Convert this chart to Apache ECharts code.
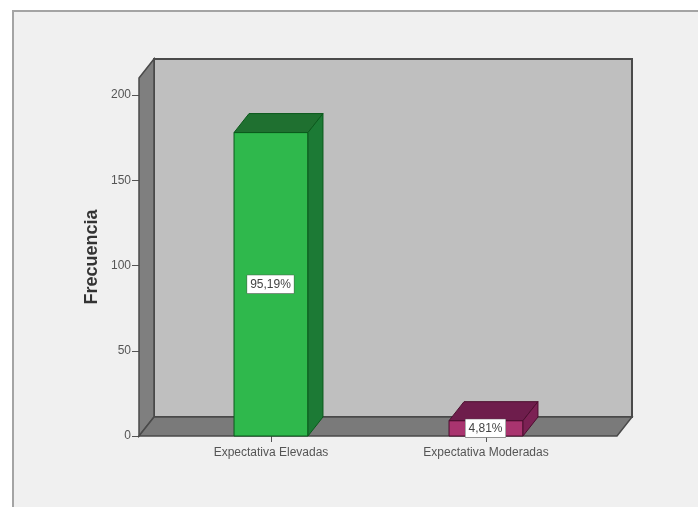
<!DOCTYPE html>
<html>
<head>
<meta charset="utf-8">
<style>html,body{margin:0;padding:0;background:#fff}#chart{width:698px;height:507px}</style>
<script src="https://cdn.jsdelivr.net/npm/echarts@6/dist/echarts.min.js"></script>
</head>
<body>
<div id="chart"></div>
<script>
// Frequency of each expectation level
const categories = ['Expectativa Elevadas', 'Expectativa Moderadas'];
const frecuencias = [178, 9];
const porcentajes = ['95,19%', '4,81%'];
const yTicks = [0, 50, 100, 150, 200];
const yMax = 210;

// Oblique projection used for the box depth, in pixels
const DEPTH_X = 15;
const DEPTH_Y = 19;
// The floor and walls reach past the outer category bands
const WALL_LEFT = 24.5;
const WALL_RIGHT = 23.5;

const barStyles = [
  { front: '#2fb84c', top: '#1f7030', side: '#1c7a35', edge: '#0b5a1c' },
  { front: '#a9346f', top: '#6e1d4c', side: '#7c2154', edge: '#4d0f30' }
];

function poly(points, fill, stroke, lineWidth) {
  return { type: 'polygon', shape: { points }, style: { fill, stroke, lineWidth: lineWidth || 1 } };
}

// Back wall, side wall and floor of the 3D frame
function renderFrame(params, api) {
  const cs = params.coordSys;
  const x0 = cs.x - WALL_LEFT;
  const x1 = cs.x + cs.width + WALL_RIGHT;
  const yTop = api.coord([0, yMax])[1];
  const yBase = api.coord([0, 0])[1];
  const edge = '#4a4a4a';
  return {
    type: 'group',
    children: [
      poly([[x0 + DEPTH_X, yTop - DEPTH_Y], [x1 + DEPTH_X, yTop - DEPTH_Y], [x1 + DEPTH_X, yBase - DEPTH_Y], [x0 + DEPTH_X, yBase - DEPTH_Y]], '#bfbfbf', edge, 2),
      poly([[x0, yTop], [x0 + DEPTH_X, yTop - DEPTH_Y], [x0 + DEPTH_X, yBase - DEPTH_Y], [x0, yBase]], '#7f7f7f', edge, 1.5),
      poly([[x0, yBase], [x0 + DEPTH_X, yBase - DEPTH_Y], [x1 + DEPTH_X, yBase - DEPTH_Y], [x1, yBase]], '#7a7a7a', edge, 1.5)
    ]
  };
}

// One 3D bar: front face, top face, right face and its percentage box
function renderBar(params, api) {
  const i = params.dataIndex;
  const s = barStyles[i];
  const base = api.coord([api.value(0), 0]);
  const head = api.coord([api.value(0), api.value(1)]);
  const half = api.size([1, 0])[0] * 0.172;
  const l = base[0] - half, r = base[0] + half, b = base[1], t = head[1];
  return {
    type: 'group',
    children: [
      poly([[l, t], [r, t], [r, b], [l, b]], s.front, s.edge),
      poly([[l, t], [l + DEPTH_X, t - DEPTH_Y], [r + DEPTH_X, t - DEPTH_Y], [r, t]], s.top, s.edge),
      poly([[r, t], [r + DEPTH_X, t - DEPTH_Y], [r + DEPTH_X, b - DEPTH_Y], [r, b]], s.side, s.edge),
      {
        type: 'text',
        style: {
          x: base[0] - 0.5,
          y: (t + b) / 2,
          text: porcentajes[i],
          align: 'center',
          verticalAlign: 'middle',
          fontFamily: 'Liberation Sans',
          fontSize: 12,
          fill: '#444',
          backgroundColor: '#fff',
          borderColor: '#555',
          borderWidth: 0.5,
          padding: [3, 3, 3, 3]
        }
      }
    ]
  };
}

const chart = echarts.init(document.getElementById('chart'), null, { renderer: 'canvas' });
chart.setOption({
  animation: false,
  backgroundColor: '#ffffff',
  graphic: [{
    type: 'rect',
    z: -10,
    shape: { x: 13, y: 11, width: 720, height: 530 },
    style: { fill: '#f0f0f0', stroke: '#a4a4a4', lineWidth: 2 }
  }],
  grid: { left: 163.5, top: 78, width: 430, height: 358 },
  xAxis: {
    type: 'category',
    data: categories,
    axisLine: { show: false },
    axisTick: { show: true, alignWithLabel: true, length: 6, lineStyle: { color: '#555' } },
    axisLabel: { color: '#555', fontFamily: 'Liberation Sans', fontSize: 12, margin: 11 }
  },
  yAxis: {
    type: 'value',
    min: 0,
    max: yMax,
    offset: WALL_LEFT,
    splitLine: { show: false },
    axisLine: { show: false },
    axisTick: { show: true, length: 7, customValues: yTicks, lineStyle: { color: '#555' } },
    axisLabel: {
      color: '#555', fontFamily: 'Liberation Sans', fontSize: 12, margin: 8,
      customValues: yTicks
    },
    name: 'Frecuencia',
    nameLocation: 'middle',
    nameGap: 38,
    nameMoveOverlap: false,
    nameTextStyle: { color: '#333', fontFamily: 'Liberation Sans', fontWeight: 'bold', fontSize: 18 }
  },
  series: [
    { type: 'custom', renderItem: renderFrame, data: [[0, 0]], encode: { x: 0, y: 1 }, clip: false, silent: true, z: 1 },
    { type: 'custom', renderItem: renderBar, data: frecuencias.map((v, i) => [i, v]), encode: { x: 0, y: 1 }, clip: false, z: 2 }
  ]
});
</script>
</body>
</html>
